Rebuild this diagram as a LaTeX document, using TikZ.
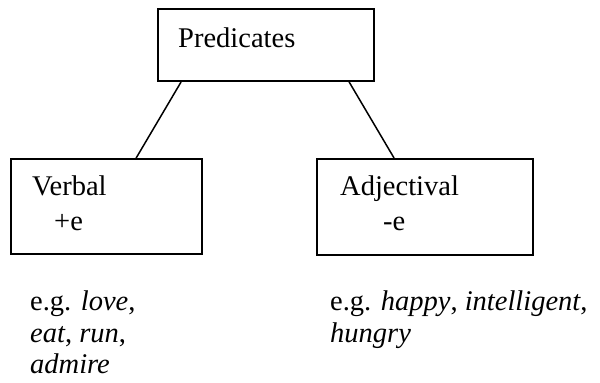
\documentclass[tikz,border=0pt]{standalone}
\usepackage{fontspec}
\setmainfont{Liberation Serif}
\usetikzlibrary{calc}
\begin{document}
\begin{tikzpicture}[x=1pt,y=-1pt,
  box/.style={draw, line width=1.8pt, inner sep=0pt},
  lbl/.style={anchor=base west, inner sep=0pt, font=\fontsize{28.5}{32}\selectfont},
  link/.style={line width=1.5pt}]
  \useasboundingbox (0,0) rectangle (600,383);
  % boxes
  \node[box, minimum width=216pt, minimum height=72pt] (pred) at (266,45) {};
  \node[box, minimum width=191pt, minimum height=95pt] (verb) at (106.5,206.5) {};
  \node[box, minimum width=216pt, minimum height=96pt] (adj) at (425,207) {};
  % box texts
  \node[lbl] (tpred) at (178,47) {Predicates};
  \node[lbl] (tverb) at (32,195) {Verbal};
  \node[lbl] (tverbe) at (54,230) {+e};
  \node[lbl] (tadj) at (340,195) {Adjectival};
  \node[lbl] (tadje) at (383,230) {-e};
  % examples, one node per printed line
  \node[lbl] (exverba) at (30,310) {e.g. \textit{love},};
  \node[lbl] (exverbb) at (30,342) {\textit{eat}, \textit{run},};
  \node[lbl] (exverbc) at (30,373) {\textit{admire}};
  \node[lbl] (exadja) at (330,310) {e.g. \textit{happy}, \textit{intelligent},};
  \node[lbl] (exadjb) at (330,342) {\textit{hungry}};
  % connectors
  \draw[link] ([xshift=24pt]pred.south west) -- ([xshift=126pt]verb.north west);
  \draw[link] ([xshift=192pt]pred.south west) -- ([xshift=78pt]adj.north west);
\end{tikzpicture}
\end{document}
